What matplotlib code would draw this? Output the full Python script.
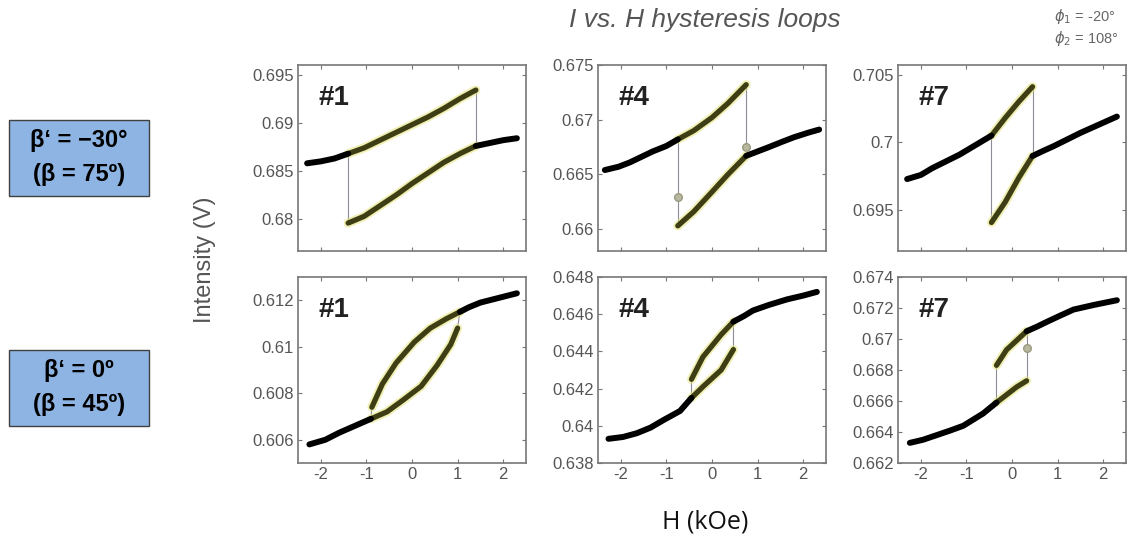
"""I vs. H hysteresis loops, 2 x 3 panels"""
import matplotlib
matplotlib.use("Agg")
from matplotlib import pyplot as plt
from matplotlib import ticker
from matplotlib import font_manager as fm
from matplotlib.patches import Rectangle

plt.rcParams['font.family'] = ['Liberation Sans', 'DejaVu Sans']

# ---- data (H in kOe, I in V) ----
# row a: beta' = -30, row b: beta' = 0 ; samples #1, #4, #7
a1_left_h = [-2.3, -2.0, -1.7, -1.4]
a1_left_i = [0.6858, 0.6860, 0.6863, 0.6868]
a1_up_h = [-1.4, -1.05, -0.7, -0.35, 0.0, 0.35, 0.7, 1.05, 1.4]
a1_up_i = [0.6868, 0.6874, 0.6882, 0.6890, 0.6898, 0.6906, 0.6915, 0.6925, 0.6934]
a1_lo_h = [-1.4, -1.05, -0.7, -0.35, 0.0, 0.35, 0.7, 1.05, 1.4]
a1_lo_i = [0.6796, 0.6803, 0.6814, 0.6825, 0.6837, 0.6848, 0.6859, 0.6868, 0.6876]
a1_right_h = [1.4, 1.7, 2.0, 2.3]
a1_right_i = [0.6876, 0.6879, 0.6882, 0.6884]

a4_left_h = [-2.35, -2.05, -1.8, -1.55, -1.3, -1.0, -0.75]
a4_left_i = [0.6654, 0.6657, 0.6661, 0.6666, 0.6671, 0.6676, 0.6682]
a4_up_h = [-0.75, -0.4, 0.0, 0.35, 0.75]
a4_up_i = [0.6682, 0.6690, 0.6702, 0.6715, 0.6732]
a4_lo_h = [-0.75, -0.4, 0.0, 0.35, 0.75]
a4_lo_i = [0.6603, 0.6616, 0.6634, 0.6650, 0.6667]
a4_right_h = [0.75, 1.0, 1.25, 1.55, 1.8, 2.1, 2.35]
a4_right_i = [0.6667, 0.6671, 0.6675, 0.6680, 0.6684, 0.6688, 0.6691]
a4_mid_h = [-0.75, 0.75]
a4_mid_i = [0.6629, 0.6675]

a7_left_h = [-2.3, -2.0, -1.75, -1.45, -1.15, -0.8, -0.45]
a7_left_i = [0.6973, 0.6976, 0.6981, 0.6986, 0.6991, 0.6998, 0.7005]
a7_up_h = [-0.45, -0.15, 0.15, 0.45]
a7_up_i = [0.7005, 0.7018, 0.7030, 0.7041]
a7_lo_h = [-0.45, -0.15, 0.15, 0.45]
a7_lo_i = [0.6941, 0.6956, 0.6974, 0.6990]
a7_right_h = [0.45, 0.7, 0.9, 1.2, 1.5, 1.9, 2.3]
a7_right_i = [0.6990, 0.6994, 0.6997, 0.7002, 0.7007, 0.7013, 0.7019]

b1_left_h = [-2.25, -1.9, -1.6, -1.25, -0.9]
b1_left_i = [0.6058, 0.6060, 0.6063, 0.6066, 0.6069]
b1_up_h = [-0.88, -0.65, -0.35, 0.05, 0.4, 0.75, 1.05]
b1_up_i = [0.6074, 0.6084, 0.6093, 0.6102, 0.6108, 0.6112, 0.6115]
b1_lo_h = [-0.9, -0.55, -0.2, 0.2, 0.55, 0.85, 1.0]
b1_lo_i = [0.6069, 0.6072, 0.6077, 0.6083, 0.6092, 0.6101, 0.6108]
b1_right_h = [1.05, 1.25, 1.5, 1.9, 2.3]
b1_right_i = [0.6115, 0.6117, 0.6119, 0.6121, 0.6123]

b4_left_h = [-2.27, -1.95, -1.65, -1.35, -1.07, -0.7, -0.45]
b4_left_i = [0.6393, 0.6394, 0.6396, 0.6399, 0.6403, 0.6408, 0.6415]
b4_up_h = [-0.45, -0.2, 0.2, 0.47]
b4_up_i = [0.6425, 0.6437, 0.6449, 0.6456]
b4_lo_h = [-0.45, -0.2, 0.2, 0.47]
b4_lo_i = [0.6415, 0.6421, 0.6430, 0.6441]
b4_right_h = [0.47, 0.7, 0.9, 1.25, 1.65, 2.0, 2.3]
b4_right_i = [0.6456, 0.6459, 0.6462, 0.6465, 0.6468, 0.6470, 0.6472]

b7_left_h = [-2.24, -1.95, -1.65, -1.35, -1.07, -0.63, -0.34]
b7_left_i = [0.6633, 0.6635, 0.6638, 0.6641, 0.6644, 0.6652, 0.6659]
b7_up_h = [-0.34, -0.12, 0.1, 0.32]
b7_up_i = [0.6683, 0.6693, 0.6699, 0.6705]
b7_lo_h = [-0.34, -0.12, 0.1, 0.32]
b7_lo_i = [0.6659, 0.6664, 0.6669, 0.6673]
b7_right_h = [0.32, 0.55, 0.76, 1.05, 1.35, 1.8, 2.3]
b7_right_i = [0.6705, 0.6708, 0.6711, 0.6715, 0.6719, 0.6722, 0.6725]
b7_mid_h = [0.32]
b7_mid_i = [0.6694]

sample_names = ["#1", "#4", "#7"]
x_ticks = [-2, -1, 0, 1, 2]
a_yticks = [[0.68, 0.685, 0.69, 0.695], [0.66, 0.665, 0.67, 0.675], [0.695, 0.7, 0.705]]
b_yticks = [[0.606, 0.608, 0.61, 0.612],
            [0.638, 0.64, 0.642, 0.644, 0.646, 0.648],
            [0.662, 0.664, 0.666, 0.668, 0.67, 0.672, 0.674]]
a_ylims = [(0.6767, 0.696), (0.658, 0.675), (0.692, 0.7057)]
b_ylims = [(0.605, 0.613), (0.638, 0.648), (0.662, 0.674)]
row_labels = [("β‘ = −30°", "(β = 75º)"), ("β‘ = 0º", "(β = 45º)")]

panels = [
    [(a1_left_h, a1_left_i, a1_up_h, a1_up_i, a1_lo_h, a1_lo_i, a1_right_h, a1_right_i, None),
     (a4_left_h, a4_left_i, a4_up_h, a4_up_i, a4_lo_h, a4_lo_i, a4_right_h, a4_right_i, (a4_mid_h, a4_mid_i)),
     (a7_left_h, a7_left_i, a7_up_h, a7_up_i, a7_lo_h, a7_lo_i, a7_right_h, a7_right_i, None)],
    [(b1_left_h, b1_left_i, b1_up_h, b1_up_i, b1_lo_h, b1_lo_i, b1_right_h, b1_right_i, None),
     (b4_left_h, b4_left_i, b4_up_h, b4_up_i, b4_lo_h, b4_lo_i, b4_right_h, b4_right_i, None),
     (b7_left_h, b7_left_i, b7_up_h, b7_up_i, b7_lo_h, b7_lo_i, b7_right_h, b7_right_i, (b7_mid_h, b7_mid_i))],
]

# plain (not narrow) bold Liberation Sans for the side boxes
bold_path = next((f.fname for f in fm.fontManager.ttflist
                  if f.name == "Liberation Sans" and f.weight in (700, "bold")
                  and "Narrow" not in f.fname), None)
if bold_path:
    box_font = fm.FontProperties(fname=bold_path, size=17)
else:
    box_font = fm.FontProperties(family="DejaVu Sans", weight="bold", size=15)

W, H = 1131, 541
fig = plt.figure(figsize=(W / 100, H / 100), dpi=100)

col_left = [298, 598, 898]
row_top = [65, 277]
ax_w, ax_h = 228, 186

for r in range(2):
    for c in range(3):
        lh, li, uh, ui, oh, oi, rh, ri, mid = panels[r][c]
        ax = fig.add_axes([col_left[c] / W, 1 - (row_top[r] + ax_h) / H, ax_w / W, ax_h / H])
        # jumps
        ax.plot([uh[0], oh[0]], [ui[0], oi[0]], color="#8c8c99", lw=0.8, zorder=1)
        ax.plot([uh[-1], oh[-1]], [ui[-1], oi[-1]], color="#8c8c99", lw=0.8, zorder=1)
        if mid is not None:
            ax.plot(mid[0], mid[1], "o", ms=5.5, color="#b8b8a0", mec="#9a9a80", zorder=2)
        # hysteretic part (olive with yellow halo)
        for bh, bi in ((uh, ui), (oh, oi)):
            ax.plot(bh, bi, color="#e4e47a", lw=6.5, alpha=0.55, solid_capstyle="round",
                    solid_joinstyle="round", zorder=3)
            ax.plot(bh, bi, color="#3e3e14", lw=3.8, solid_capstyle="round",
                    solid_joinstyle="round", zorder=4)
        # reversible tails
        for bh, bi in ((lh, li), (rh, ri)):
            ax.plot(bh, bi, color="black", lw=4.3, solid_capstyle="round",
                    solid_joinstyle="round", zorder=5)

        ax.set_xlim(-2.5, 2.5)
        ax.set_ylim(*(a_ylims[c] if r == 0 else b_ylims[c]))
        ax.set_xticks(x_ticks)
        ax.set_yticks(a_yticks[c] if r == 0 else b_yticks[c])
        ax.yaxis.set_major_formatter(ticker.FuncFormatter(lambda v, p: "%g" % round(v, 4)))
        ax.xaxis.set_major_formatter(ticker.FuncFormatter(lambda v, p: "%g" % v))
        ax.tick_params(direction="in", length=3, width=0.8, color="#777777",
                       labelcolor="#555555", labelsize=12, top=True, right=True, pad=3)
        if r == 0:
            ax.set_xticklabels([])
        for sp in ax.spines.values():
            sp.set_color("#777777")
            sp.set_linewidth(1.2)
        ax.text(0.09, 0.82, sample_names[c], transform=ax.transAxes, fontsize=20,
                fontweight="bold", color="#222222", va="center")

# texts around the grid
fig.text(705 / W, 1 - 20 / H, "I vs. H hysteresis loops", ha="center", va="center",
         fontsize=19, style="italic", color="#555555")
fig.text(1054 / W, 1 - 16 / H, r"$\phi_1$ = -20°", ha="left", va="center", fontsize=10.5, color="#666666")
fig.text(1054 / W, 1 - 38 / H, r"$\phi_2$ = 108°", ha="left", va="center", fontsize=10.5, color="#666666")
fig.text(205 / W, 1 - 260 / H, "Intensity (V)", rotation=90, ha="center", va="center",
         fontsize=17, color="#555555")
fig.text(705 / W, 1 - 522 / H, "H (kOe)", ha="center", va="center", fontsize=18,
         color="#111111", family=["Open Sans", "DejaVu Sans"])

box_tops = [120, 350]
for k, (l1, l2) in enumerate(row_labels):
    y0 = box_tops[k]
    fig.patches.append(Rectangle((9 / W, 1 - (y0 + 76) / H), 140 / W, 76 / H,
                                 transform=fig.transFigure, facecolor="#8eb4e3",
                                 edgecolor="#404040", lw=1.0))
    fig.text(79 / W, 1 - (y0 + 21) / H, l1, ha="center", va="center",
             fontproperties=box_font, color="black")
    fig.text(79 / W, 1 - (y0 + 54) / H, l2, ha="center", va="center",
             fontproperties=box_font, color="black")

fig.savefig("out.png", dpi=100)
